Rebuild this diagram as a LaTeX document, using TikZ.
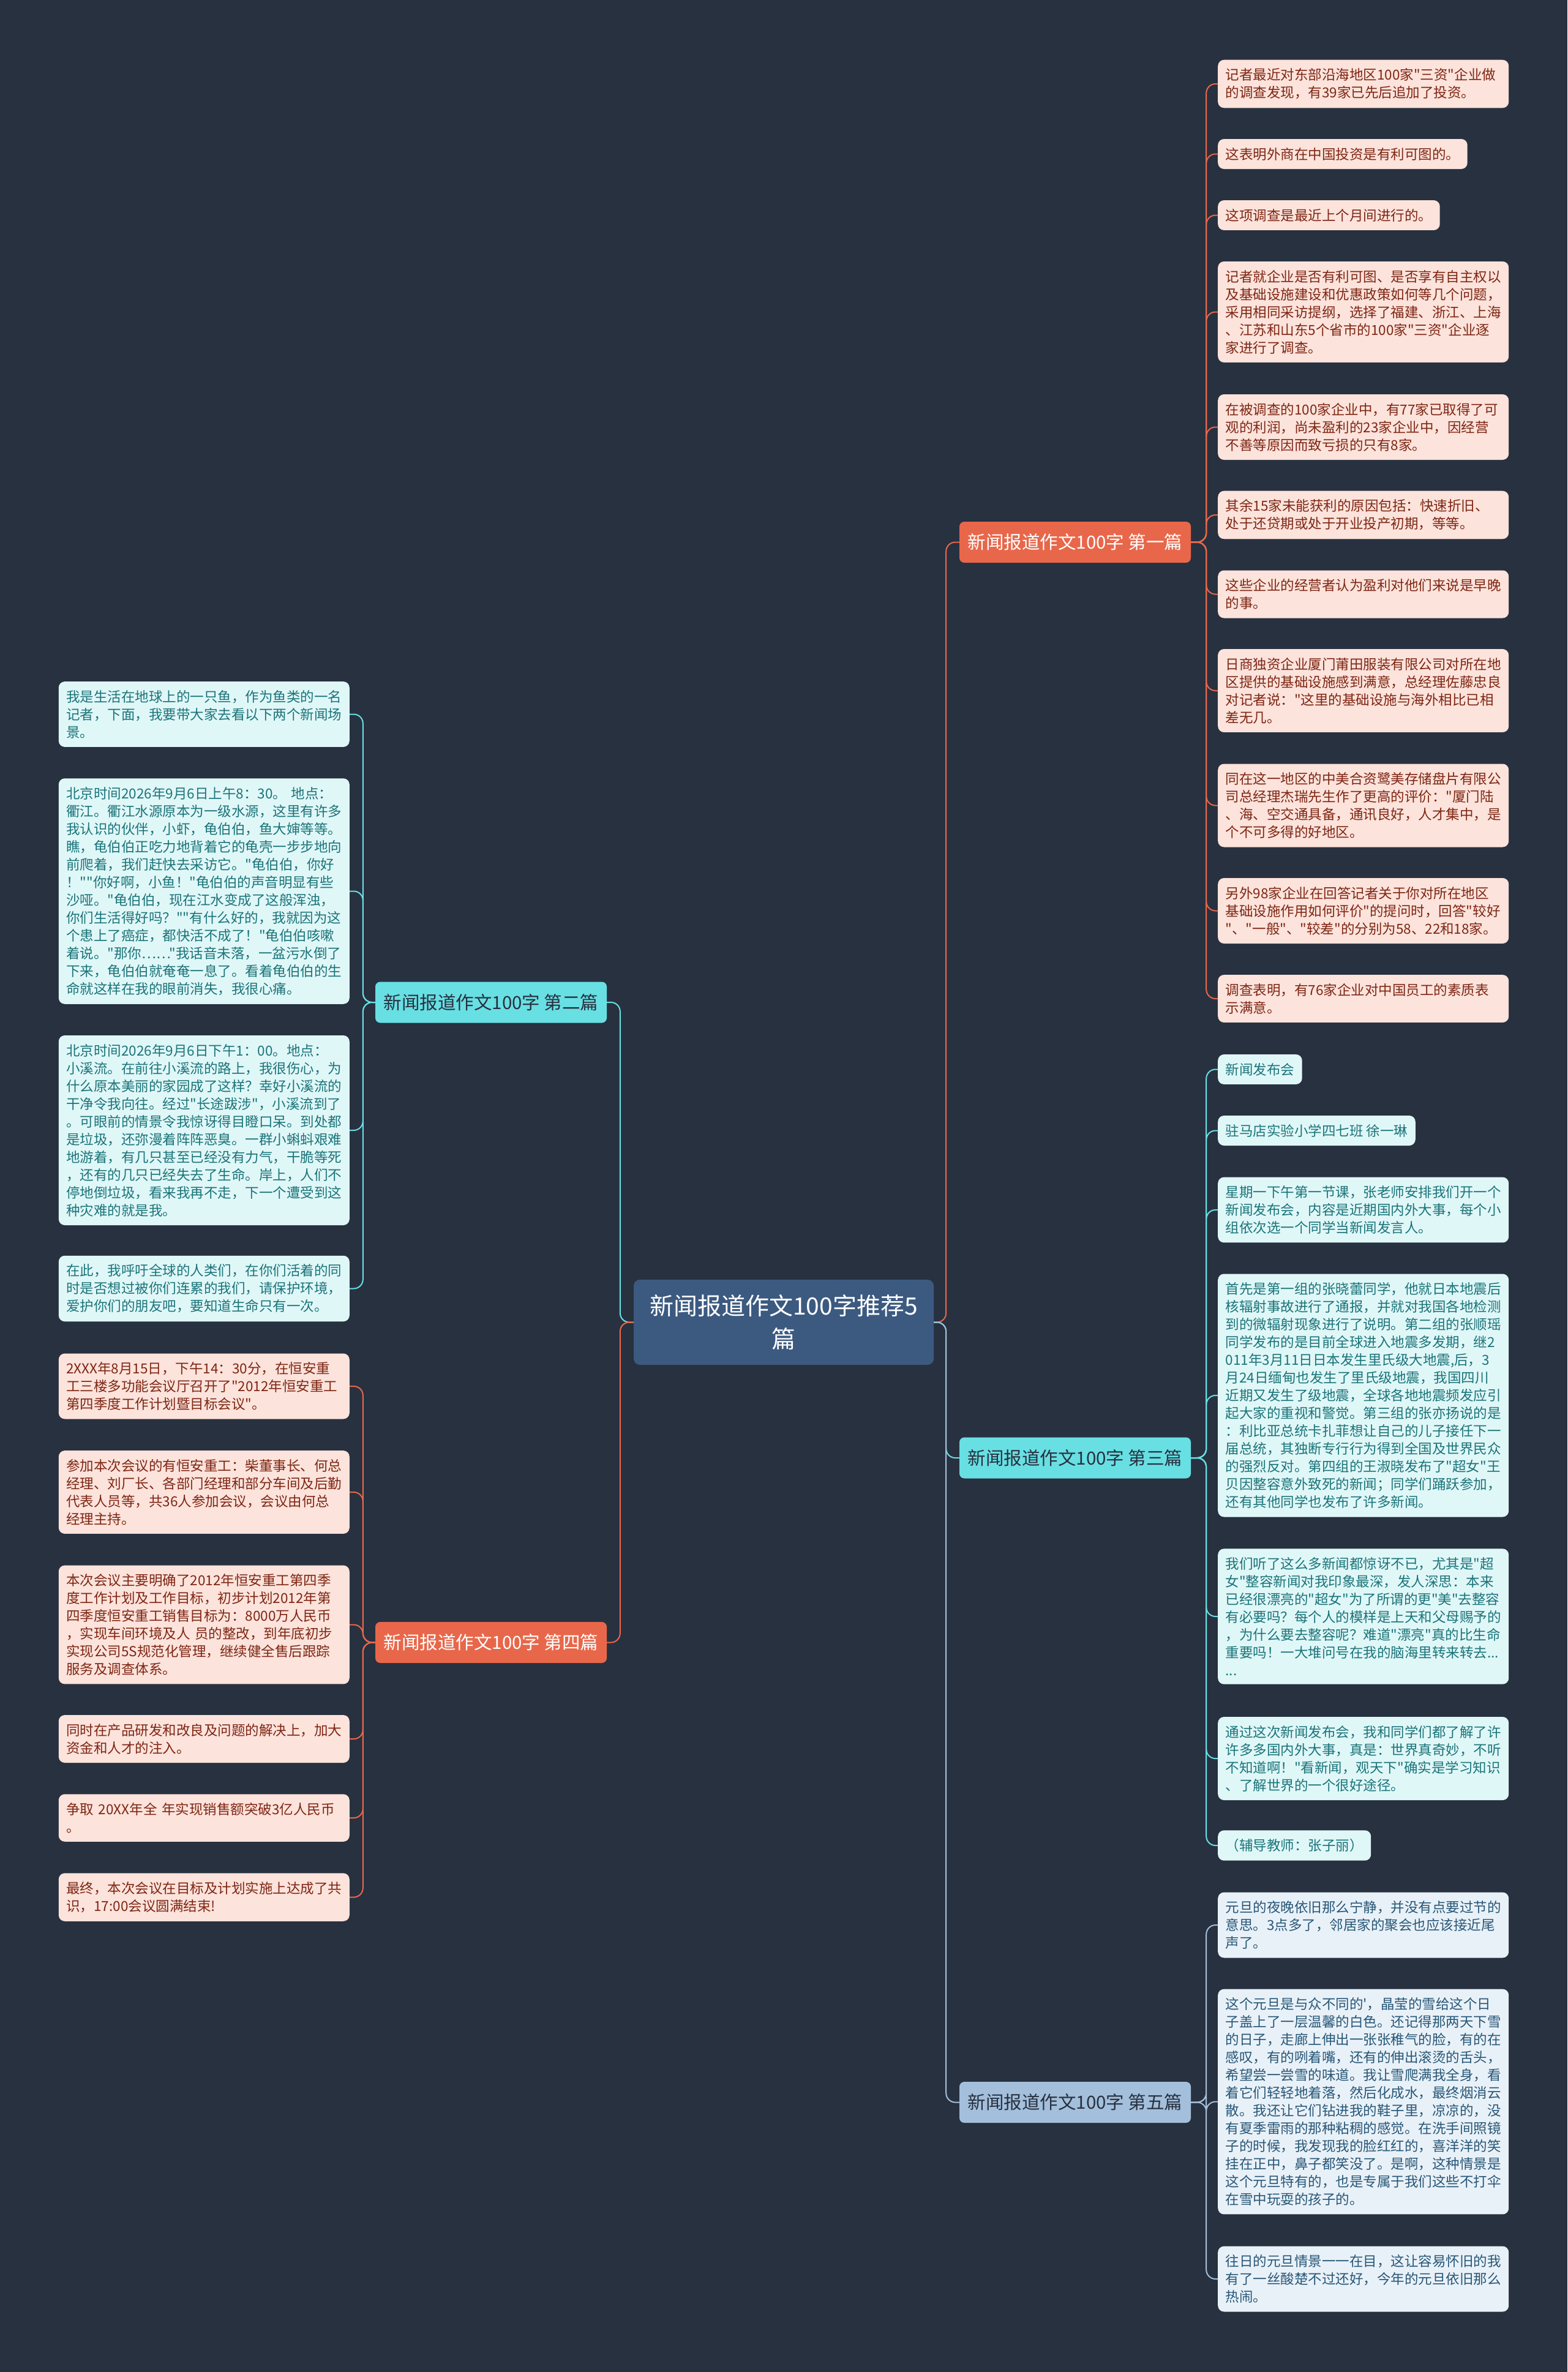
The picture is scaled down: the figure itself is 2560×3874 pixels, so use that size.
\documentclass[tikz,border=0pt]{standalone}
\usepackage{fontspec}
\setmainfont{Noto Sans CJK SC}[Ligatures=TeXOff]
\usepackage{tikz}

\definecolor{bgdark}{HTML}{283140}
\definecolor{rootblue}{HTML}{3C5A80}
\definecolor{orangeM}{HTML}{E8674A}
\definecolor{orangeL}{HTML}{FCE3DB}
\definecolor{orangeT}{HTML}{7E2614}
\definecolor{cyanM}{HTML}{68DFE3}
\definecolor{cyanL}{HTML}{E0F7F8}
\definecolor{cyanT}{HTML}{1B7479}
\definecolor{blueM}{HTML}{A3BFDB}
\definecolor{blueL}{HTML}{E9F1F8}
\definecolor{blueT}{HTML}{275777}
\definecolor{branchT}{HTML}{27303F}

\begin{document}
\begin{tikzpicture}[x=1pt,y=-1pt,
  rootbox/.style={fill=rootblue,text=white,rounded corners=10,minimum width=490,minimum height=139,inner sep=0,align=center,font=\fontsize{39}{54}\selectfont},
  branch/.style={rounded corners=8,minimum width=378,minimum height=67,inner sep=0,font=\fontsize{29.5}{34}\selectfont},
  leaf/.style={rounded corners=10,inner xsep=12.5,inner ysep=14,align=left,font=\fontsize{22.5}{29}\selectfont},
  wide/.style={text width=450},
  leafO/.style={leaf,fill=orangeL,text=orangeT},
  leafC/.style={leaf,fill=cyanL,text=cyanT},
  leafB/.style={leaf,fill=blueL,text=blueT},
  lineO/.style={draw=orangeM,line width=2,rounded corners=15},
  lineC/.style={draw=cyanM,line width=2,rounded corners=15},
  lineB/.style={draw=blueM,line width=2,rounded corners=15}]

% Background
\fill[bgdark] (0,0) rectangle (2560,3874);

% Center
\node[rootbox] (root) at (1280,2159.5) {新闻报道作文100字推荐5\\篇};

% Branches
\node[branch,fill=orangeM,text=white] (b1) at (1756,885.5) {新闻报道作文100字 第一篇};
\node[branch,fill=cyanM,text=branchT] (b2) at (802,1637) {新闻报道作文100字 第二篇};
\node[branch,fill=cyanM,text=branchT] (b3) at (1756,2381) {新闻报道作文100字 第三篇};
\node[branch,fill=orangeM,text=white] (b4) at (802,2682.5) {新闻报道作文100字 第四篇};
\node[branch,fill=blueM,text=branchT] (b5) at (1756,3433.5) {新闻报道作文100字 第五篇};

% First article
\node[leafO,wide,anchor=west] (l1) at (1989,137) {记者最近对东部沿海地区100家"三资"企业做\\的调查发现，有39家已先后追加了投资。};
\node[leafO,anchor=west] (l2) at (1989,251.5) {这表明外商在中国投资是有利可图的。};
\node[leafO,anchor=west] (l3) at (1989,351.5) {这项调查是最近上个月间进行的。};
\node[leafO,wide,anchor=west] (l4) at (1989,509.5) {记者就企业是否有利可图、是否享有自主权以\\及基础设施建设和优惠政策如何等几个问题，\\采用相同采访提纲，选择了福建、浙江、上海\\、江苏和山东5个省市的100家"三资"企业逐\\家进行了调查。};
\node[leafO,wide,anchor=west] (l5) at (1989,697.5) {在被调查的100家企业中，有77家已取得了可\\观的利润，尚未盈利的23家企业中，因经营\\不善等原因而致亏损的只有8家。};
\node[leafO,wide,anchor=west] (l6) at (1989,841) {其余15家未能获利的原因包括：快速折旧、\\处于还贷期或处于开业投产初期，等等。};
\node[leafO,wide,anchor=west] (l7) at (1989,970.5) {这些企业的经营者认为盈利对他们来说是早晚\\的事。};
\node[leafO,wide,anchor=west] (l8) at (1989,1128) {日商独资企业厦门莆田服装有限公司对所在地\\区提供的基础设施感到满意，总经理佐藤忠良\\对记者说："这里的基础设施与海外相比已相\\差无几。};
\node[leafO,wide,anchor=west] (l9) at (1989,1315.5) {同在这一地区的中美合资鹭美存储盘片有限公\\司总经理杰瑞先生作了更高的评价："厦门陆\\、海、空交通具备，通讯良好，人才集中，是\\个不可多得的好地区。};
\node[leafO,wide,anchor=west] (l10) at (1989,1487.5) {另外98家企业在回答记者关于你对所在地区\\基础设施作用如何评价"的提问时，回答"较好\\"、"一般"、"较差"的分别为58、22和18家。};
\node[leafO,wide,anchor=west] (l11) at (1989,1631) {调查表明，有76家企业对中国员工的素质表\\示满意。};

% Second article
\node[leafC,wide,anchor=east] (a1) at (571,1166.5) {我是生活在地球上的一只鱼，作为鱼类的一名\\记者，下面，我要带大家去看以下两个新闻场\\景。};
\node[leafC,wide,anchor=east] (a2) at (571,1455.5) {北京时间2026年9月6日上午8：30。 地点：\\衢江。衢江水源原本为一级水源，这里有许多\\我认识的伙伴，小虾，龟伯伯，鱼大婶等等。\\瞧，龟伯伯正吃力地背着它的龟壳一步步地向\\前爬着，我们赶快去采访它。"龟伯伯，你好\\！""你好啊，小鱼！"龟伯伯的声音明显有些\\沙哑。"龟伯伯，现在江水变成了这般浑浊，\\你们生活得好吗？""有什么好的，我就因为这\\个患上了癌症，都快活不成了！"龟伯伯咳嗽\\着说。"那你……"我话音未落，一盆污水倒了\\下来，龟伯伯就奄奄一息了。看着龟伯伯的生\\命就这样在我的眼前消失，我很心痛。};
\node[leafC,wide,anchor=east] (a3) at (571,1846) {北京时间2026年9月6日下午1：00。地点：\\小溪流。在前往小溪流的路上，我很伤心，为\\什么原本美丽的家园成了这样？幸好小溪流的\\干净令我向往。经过"长途跋涉"，小溪流到了\\。可眼前的情景令我惊讶得目瞪口呆。到处都\\是垃圾，还弥漫着阵阵恶臭。一群小蝌蚪艰难\\地游着，有几只甚至已经没有力气，干脆等死\\，还有的几只已经失去了生命。岸上，人们不\\停地倒垃圾，看来我再不走，下一个遭受到这\\种灾难的就是我。};
\node[leafC,wide,anchor=east] (a4) at (571,2104.5) {在此，我呼吁全球的人类们，在你们活着的同\\时是否想过被你们连累的我们，请保护环境，\\爱护你们的朋友吧，要知道生命只有一次。};

% Third article
\node[leafC,anchor=west] (c1) at (1989,1746.5) {新闻发布会};
\node[leafC,anchor=west] (c2) at (1989,1846.5) {驻马店实验小学四七班 徐一琳};
\node[leafC,wide,anchor=west] (c3) at (1989,1976) {星期一下午第一节课，张老师安排我们开一个\\新闻发布会，内容是近期国内外大事，每个小\\组依次选一个同学当新闻发言人。};
\node[leafC,wide,anchor=west] (c4) at (1989,2279) {首先是第一组的张晓蕾同学，他就日本地震后\\核辐射事故进行了通报，并就对我国各地检测\\到的微辐射现象进行了说明。第二组的张顺瑶\\同学发布的是目前全球进入地震多发期，继2\\011年3月11日日本发生里氏级大地震,后，3\\月24日缅甸也发生了里氏级地震，我国四川\\近期又发生了级地震，全球各地地震频发应引\\起大家的重视和警觉。第三组的张亦扬说的是\\：利比亚总统卡扎菲想让自己的儿子接任下一\\届总统，其独断专行行为得到全国及世界民众\\的强烈反对。第四组的王淑晓发布了"超女"王\\贝因整容意外致死的新闻；同学们踊跃参加，\\还有其他同学也发布了许多新闻。};
\node[leafC,wide,anchor=west] (c5) at (1989,2640) {我们听了这么多新闻都惊讶不已，尤其是"超\\女"整容新闻对我印象最深，发人深思：本来\\已经很漂亮的"超女"为了所谓的更"美"去整容\\有必要吗？每个人的模样是上天和父母赐予的\\，为什么要去整容呢？难道"漂亮"真的比生命\\重要吗！一大堆问号在我的脑海里转来转去...\\...};
\node[leafC,wide,anchor=west] (c6) at (1989,2872) {通过这次新闻发布会，我和同学们都了解了许\\许多多国内外大事，真是：世界真奇妙，不听\\不知道啊！"看新闻，观天下"确实是学习知识\\、了解世界的一个很好途径。};
\node[leafC,anchor=west] (c7) at (1989,3014) {（辅导教师：张子丽）};

% Fourth article
\node[leafO,wide,anchor=east] (d1) at (571,2264) {2XXX年8月15日，下午14：30分，在恒安重\\工三楼多功能会议厅召开了"2012年恒安重工\\第四季度工作计划暨目标会议"。};
\node[leafO,wide,anchor=east] (d2) at (571,2437) {参加本次会议的有恒安重工：柴董事长、何总\\经理、刘厂长、各部门经理和部分车间及后勤\\代表人员等，共36人参加会议，会议由何总\\经理主持。};
\node[leafO,wide,anchor=east] (d3) at (571,2653.5) {本次会议主要明确了2012年恒安重工第四季\\度工作计划及工作目标，初步计划2012年第\\四季度恒安重工销售目标为：8000万人民币\\，实现车间环境及人 员的整改，到年底初步\\实现公司5S规范化管理，继续健全售后跟踪\\服务及调查体系。};
\node[leafO,wide,anchor=east] (d4) at (571,2840) {同时在产品研发和改良及问题的解决上，加大\\资金和人才的注入。};
\node[leafO,wide,anchor=east] (d5) at (571,2969) {争取 20XX年全 年实现销售额突破3亿人民币\\。};
\node[leafO,wide,anchor=east] (d6) at (571,3098.5) {最终，本次会议在目标及计划实施上达成了共\\识，17:00会议圆满结束!};

% Fifth article
\node[leafB,wide,anchor=west] (e1) at (1989,3144) {元旦的夜晚依旧那么宁静，并没有点要过节的\\意思。3点多了，邻居家的聚会也应该接近尾\\声了。};
\node[leafB,wide,anchor=west] (e2) at (1989,3432.5) {这个元旦是与众不同的'，晶莹的雪给这个日\\子盖上了一层温馨的白色。还记得那两天下雪\\的日子，走廊上伸出一张张稚气的脸，有的在\\感叹，有的咧着嘴，还有的伸出滚烫的舌头，\\希望尝一尝雪的味道。我让雪爬满我全身，看\\着它们轻轻地着落，然后化成水，最终烟消云\\散。我还让它们钻进我的鞋子里，凉凉的，没\\有夏季雷雨的那种粘稠的感觉。在洗手间照镜\\子的时候，我发现我的脸红红的，喜洋洋的笑\\挂在正中，鼻子都笑没了。是啊，这种情景是\\这个元旦特有的，也是专属于我们这些不打伞\\在雪中玩耍的孩子的。};
\node[leafB,wide,anchor=west] (e3) at (1989,3722) {往日的元旦情景一一在目，这让容易怀旧的我\\有了一丝酸楚不过还好，今年的元旦依旧那么\\热闹。};

% Connectors
\draw[lineO] (root.east) -- ++(20,0) |- (b1.west);
\draw[lineC] (root.east) -- ++(20,0) |- (b3.west);
\draw[lineB] (root.east) -- ++(20,0) |- (b5.west);
\draw[lineC] (root.west) -- ++(-22,0) |- (b2.east);
\draw[lineO] (root.west) -- ++(-22,0) |- (b4.east);
\foreach \n in {l1,l2,l3,l4,l5,l6,l7,l8,l9,l10,l11}
  \draw[lineO] (b1.east) -- ++(25,0) |- (\n.west);
\foreach \n in {a1,a2,a3,a4}
  \draw[lineC] (b2.west) -- ++(-20,0) |- (\n.east);
\foreach \n in {c1,c2,c3,c4,c5,c6,c7}
  \draw[lineC] (b3.east) -- ++(25,0) |- (\n.west);
\foreach \n in {d1,d2,d3,d4,d5,d6}
  \draw[lineO] (b4.west) -- ++(-20,0) |- (\n.east);
\foreach \n in {e1,e2,e3}
  \draw[lineB] (b5.east) -- ++(25,0) |- (\n.west);
\end{tikzpicture}
\end{document}
